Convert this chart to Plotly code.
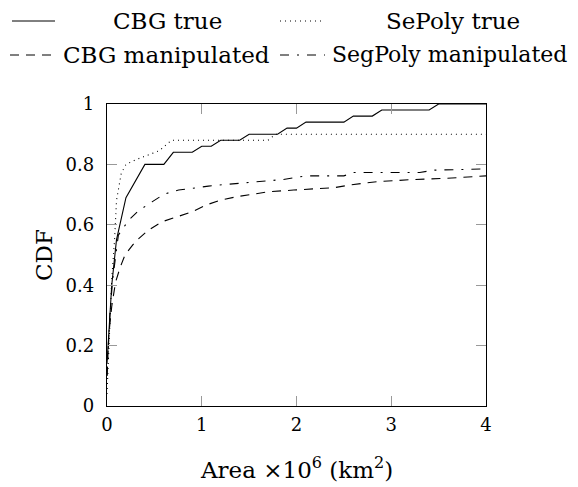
import plotly.graph_objects as go

# ---- data ----
cbg_true_x = [0, 0.05, 0.1, 0.2, 0.4, 0.6, 0.7, 0.9, 1.0, 1.1, 1.2, 1.4, 1.5, 1.8, 1.9, 2.0, 2.1, 2.5, 2.6, 2.8, 2.9, 3.4, 3.5, 4.0]
cbg_true_y = [0.14, 0.4, 0.55, 0.69, 0.8, 0.8, 0.84, 0.84, 0.86, 0.86, 0.88, 0.88, 0.9, 0.9, 0.92, 0.92, 0.94, 0.94, 0.96, 0.96, 0.98, 0.98, 1.0, 1.0]

sepoly_true_x = [0, 0.02, 0.05, 0.08, 0.1, 0.15, 0.2, 0.3, 0.4, 0.55, 0.68, 1.7, 1.78, 4.0]
sepoly_true_y = [0.04, 0.2, 0.42, 0.55, 0.68, 0.77, 0.80, 0.815, 0.826, 0.845, 0.88, 0.88, 0.90, 0.90]

cbg_manip_x = [0, 0.02, 0.05, 0.09, 0.14, 0.19, 0.3, 0.44, 0.58, 0.74, 0.9, 1.05, 1.2, 1.37, 1.55, 1.72, 1.97, 2.18, 2.4, 2.57, 2.71, 2.85, 3.24, 3.59, 4.0]
cbg_manip_y = [0.1, 0.24, 0.33, 0.41, 0.46, 0.5, 0.545, 0.583, 0.61, 0.627, 0.643, 0.666, 0.682, 0.693, 0.702, 0.71, 0.715, 0.72, 0.723, 0.732, 0.737, 0.743, 0.75, 0.754, 0.762]

segpoly_manip_x = [0, 0.03, 0.06, 0.09, 0.12, 0.23, 0.335, 0.475, 0.605, 0.756, 0.915, 1.07, 1.23, 1.37, 1.55, 1.71, 1.86, 2.1, 2.5, 2.6, 3.3, 3.45, 4.0]
segpoly_manip_y = [0.1, 0.3, 0.42, 0.5, 0.566, 0.616, 0.647, 0.676, 0.702, 0.715, 0.722, 0.728, 0.733, 0.737, 0.743, 0.746, 0.75, 0.762, 0.762, 0.773, 0.773, 0.781, 0.785]

series_names = ["CBG true", "SePoly true", "CBG manipulated", "SegPoly manipulated"]

x_ticks = [0, 1, 2, 3, 4]
x_ticktext = ["0", "1", "2", "3", "4"]
y_ticks = [0, 0.2, 0.4, 0.6, 0.8, 1.0]
y_ticktext = ["0", "0.2", "0.4", "0.6", "0.8", "1"]

# ---- styles ----
FONT = "DejaVu Serif"
dash_styles = ["solid", "1px,4px", "9px,7px", "9px,8px,2px,8px"]

OFF = 8  # page body margin
W, H = 578 - OFF, 487 - OFF
L, R, T, B = 107 - OFF, 92, 104 - OFF, 81
pw, ph = W - L - R, H - T - B

def px2paper(px, py):
    # px, py in page pixels
    return (px - OFF - L) / pw, (H - B - (py - OFF)) / ph

fig = go.Figure()
data = [(cbg_true_x, cbg_true_y), (sepoly_true_x, sepoly_true_y),
        (cbg_manip_x, cbg_manip_y), (segpoly_manip_x, segpoly_manip_y)]
for (xs, ys), name, d in zip(data, series_names, dash_styles):
    fig.add_trace(go.Scatter(x=xs, y=ys, mode="lines", name=name,
                             line=dict(color="black", width=1.1, dash=d),
                             showlegend=False))

# ---- manual legend (matching the LaTeX layout) ----
shapes = []
annotations = []
legend_rows = [
    (12, 55, 21, dash_styles[0], series_names[0], 167, "center", 23),
    (280, 325, 21, dash_styles[1], series_names[1], 453, "center", 23),
    (10, 52, 55, dash_styles[2], series_names[2], 61, "left", 23),
    (280, 325, 55, dash_styles[3], series_names[3], 330, "left", 22),
]
for x0, x1, y, d, label, lx, anc, fs in legend_rows:
    a0, b0 = px2paper(x0, y)
    a1, _ = px2paper(x1, y)
    shapes.append(dict(type="line", xref="paper", yref="paper", x0=a0, x1=a1, y0=b0, y1=b0,
                       line=dict(color="black", width=1, dash=d)))
    ax_, ay_ = px2paper(lx, y)
    annotations.append(dict(text=label, xref="paper", yref="paper", x=ax_, y=ay_,
                            xanchor=anc, yanchor="middle", showarrow=False,
                            font=dict(family=FONT, size=fs, color="black")))

# axis titles
tx, ty = px2paper((107 + 486) / 2, 468)
annotations.append(dict(text="Area ×10<sup>6</sup> (km<sup>2</sup>)", xref="paper", yref="paper",
                        x=tx, y=ty, xanchor="center", yanchor="middle", showarrow=False,
                        font=dict(family=FONT, size=23, color="black")))
cx, cy = px2paper(44, (104 + 406) / 2)
annotations.append(dict(text="CDF", xref="paper", yref="paper", x=cx, y=cy, textangle=-90,
                        xanchor="center", yanchor="middle", showarrow=False,
                        font=dict(family=FONT, size=23, color="black")))

axis_common = dict(showgrid=False, zeroline=False, showline=True, linecolor="black", linewidth=1.3,
                   mirror="allticks", ticks="inside", ticklen=10, tickcolor="#999999", tickwidth=1,
                   tickfont=dict(family=FONT, size=18, color="black"))

fig.update_layout(
    width=W, height=H,
    margin=dict(l=L, r=R, t=T, b=B, pad=0),
    paper_bgcolor="white", plot_bgcolor="white",
    xaxis=dict(range=[0, 4], tickvals=x_ticks, ticktext=x_ticktext, ticklabelstandoff=2, **axis_common),
    yaxis=dict(range=[0, 1], tickvals=y_ticks, ticktext=y_ticktext, ticklabelstandoff=8, **axis_common),
    shapes=shapes, annotations=annotations,
)

fig.write_html("out.html")
